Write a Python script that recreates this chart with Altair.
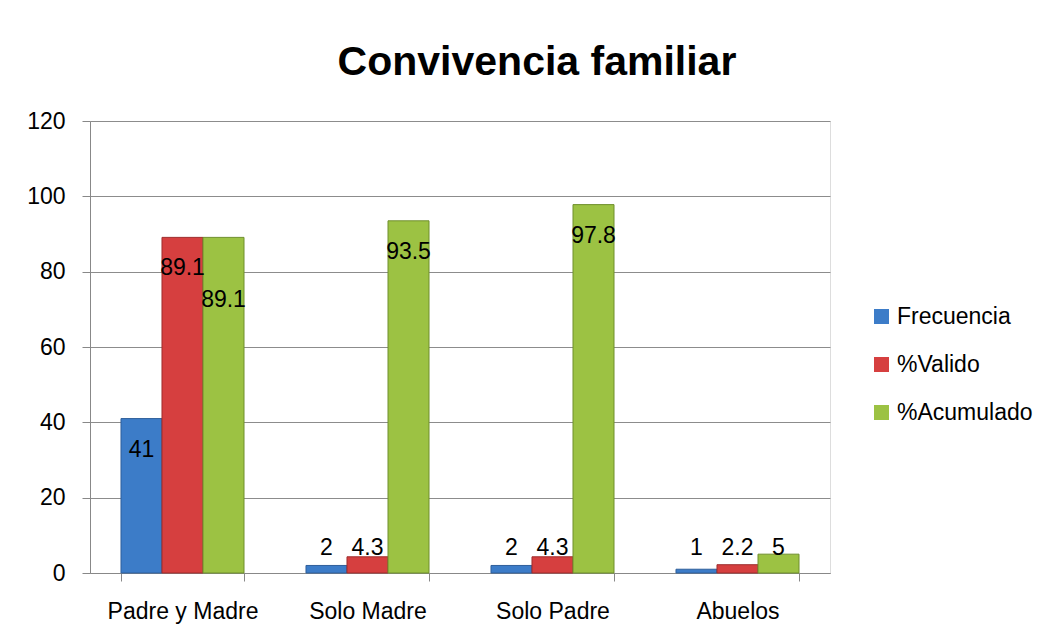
import altair as alt
import pandas as pd

categories = ["Padre y Madre", "Solo Madre", "Solo Padre", "Abuelos"]
series = ["Frecuencia", "%Valido", "%Acumulado"]
frecuencia = [41, 2, 2, 1]
valido = [89.1, 4.3, 4.3, 2.2]
acumulado = [89.1, 93.5, 97.8, 5]
y_ticks = [0, 20, 40, 60, 80, 100, 120]

colors = ["#3C7CC8", "#D63F3F", "#9CC243"]
edges = ["#2F5F9A", "#9E2C2C", "#6F8F2C"]

rows = []
for i, c in enumerate(categories):
    for s, vals in zip(series, [frecuencia, valido, acumulado]):
        rows.append({"cat": c, "serie": s, "value": vals[i],
                     "label": f"{vals[i]:g}"})
df = pd.DataFrame(rows)

FONT = "Liberation Sans"
FS = 23

x = alt.X("cat:N", sort=categories, title=None,
          scale=alt.Scale(paddingInner=0.335, paddingOuter=0.1675),
          axis=alt.Axis(labelAngle=0, labelFontSize=FS, labelFont=FONT,
                        labelColor="#000000", labelPadding=30,
                        labelBaseline="middle",
                        tickBand="extent", tickSize=8, tickColor="#888888",
                        domainColor="#888888", grid=False))
xoff = alt.XOffset("serie:N", sort=series, scale=alt.Scale(paddingInner=0, paddingOuter=0))

bars = alt.Chart(df).mark_bar(strokeWidth=1).encode(
    x=x,
    xOffset=xoff,
    y=alt.Y("value:Q", title=None,
            scale=alt.Scale(domain=[0, 120], nice=False),
            axis=alt.Axis(values=y_ticks, labelFontSize=FS, labelFont=FONT,
                          labelColor="#000000", labelPadding=17,
                          tickSize=8, tickColor="#888888",
                          domainColor="#888888", gridColor="#8c8c8c",
                          gridWidth=1)),
    color=alt.Color("serie:N", sort=series, title=None,
                    scale=alt.Scale(domain=series, range=colors),
                    legend=alt.Legend(orient="none", legendX=780, legendY=184,
                                      symbolType="square", symbolSize=225,
                                      symbolStrokeWidth=0,
                                      labelFontSize=FS, labelFont=FONT,
                                      labelColor="#000000", labelOffset=4,
                                      rowPadding=24, padding=0)),
    stroke=alt.Stroke("serie:N", sort=series,
                      scale=alt.Scale(domain=series, range=edges), legend=None),
)

base = alt.Chart(df).transform_window(
    prev="lag(value)", groupby=["cat"], sort=[alt.SortField("serie", order="descending")]
).transform_calculate(
    dup="datum.serie == '%Acumulado' && datum.prev == datum.value"
)

def text_layer(filt, dy, yfield):
    return base.transform_filter(filt).mark_text(
        fontSize=FS, font=FONT, color="#000000", baseline="middle", dy=dy
    ).encode(x=x, xOffset=xoff, y=alt.Y(yfield), text="label:N")

inside = text_layer("datum.value > 10 && !datum.dup", 31, "value:Q")
inside_low = text_layer("datum.value > 10 && datum.dup", 63, "value:Q")
small = base.transform_filter("datum.value <= 10").transform_calculate(
    zero="0"
).mark_text(fontSize=FS, font=FONT, color="#000000", baseline="middle", dy=-25
).encode(x=x, xOffset=xoff, y=alt.Y("zero:Q"), text="label:N")

chart = alt.layer(bars, inside, inside_low, small).properties(
    width=740, height=452,
    autosize=alt.AutoSizeParams(type="none"),
    padding={"left": 82, "top": 113, "right": 214, "bottom": 55},
    title=alt.TitleParams("Convivencia familiar", fontSize=41, font=FONT,
                          fontWeight="bold", color="#000000", anchor="middle",
                          dx=77, dy=7, offset=1, baseline="alphabetic"),
).configure_view(stroke=None).configure(background="white")

chart.save("out.html", embed_options={"renderer": "svg", "actions": False})
